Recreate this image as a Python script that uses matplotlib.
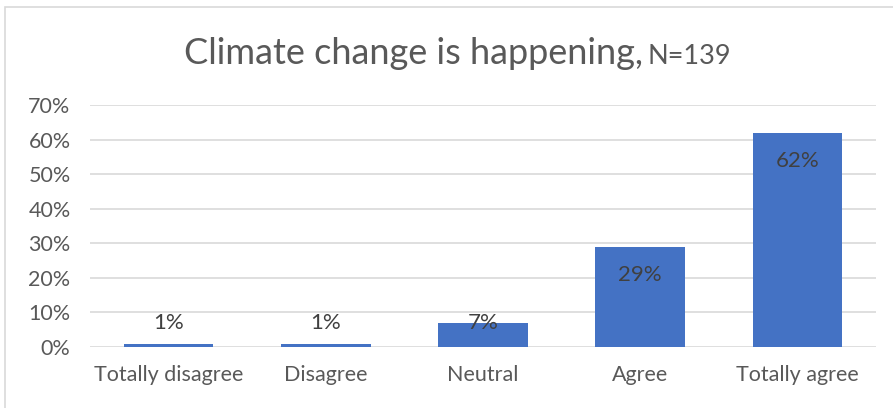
"""Bar chart: Climate change is happening, N=139 (Excel-style recreation)."""
import matplotlib
matplotlib.use("Agg")
import matplotlib.pyplot as plt
from matplotlib.patches import Rectangle
from matplotlib.ticker import PercentFormatter, MultipleLocator

categories = ["Totally disagree", "Disagree", "Neutral", "Agree", "Totally agree"]
shares = [0.01, 0.01, 0.07, 0.29, 0.62]
bar_labels = ["1%", "1%", "7%", "29%", "62%"]
title_main = "Climate change is happening,"
title_n = "N=139"

plt.rcParams.update({
    "font.family": ["Lato", "DejaVu Sans"],
    "font.size": 15,
})

BAR = "#4472C4"
GRID = "#D9D9D9"
TEXT = "#595959"
LABEL = "#404040"

W, H = 893, 408
fig = plt.figure(figsize=(W / 100, H / 100), dpi=100)
ax = fig.add_axes([90 / W, 1 - 347 / H, 786 / W, 242 / H])

x = range(len(categories))
ax.bar(x, shares, width=0.57, color=BAR, zorder=3)

ax.set_xlim(-0.5, len(categories) - 0.5)
ax.set_ylim(0, 0.70)
ax.yaxis.set_major_locator(MultipleLocator(0.10))
ax.yaxis.set_major_formatter(PercentFormatter(1.0, decimals=0))
ax.grid(axis="y", color=GRID, linewidth=1.2, zorder=0)
ax.set_axisbelow(True)
for s in ax.spines.values():
    s.set_visible(False)
ax.tick_params(axis="y", length=0, pad=14, labelsize=15.5, labelcolor=TEXT)
ax.tick_params(axis="x", length=0, pad=13, labelsize=15.5, labelcolor=TEXT)
ax.set_xticks(list(x))
ax.set_xticklabels(categories)

# Excel "inside end" labels: below the bar top, but never lower than the floor
px_per_unit = 242 / 0.70
inside = 28 / px_per_unit
floor = 24 / px_per_unit
for xi, v, lab in zip(x, shares, bar_labels):
    yc = max(v - inside, floor)
    ax.text(xi, yc, lab, ha="center", va="center", fontsize=16,
            color=LABEL, zorder=4)

# title in two sizes
fig.text(643 / W, 1 - 64 / H, title_main, ha="right", va="baseline",
         fontsize=26, color=TEXT)
fig.text(648 / W, 1 - 64 / H, title_n, ha="left", va="baseline",
         fontsize=19.5, color=TEXT)

# chart border (top and left visible in the crop)
fig.patches.append(Rectangle((5 / W, -0.05), 2, 1 - 7 / H + 0.05,
                             transform=fig.transFigure, fill=False,
                             edgecolor=GRID, linewidth=1.2))

fig.savefig("out.png", dpi=100)
